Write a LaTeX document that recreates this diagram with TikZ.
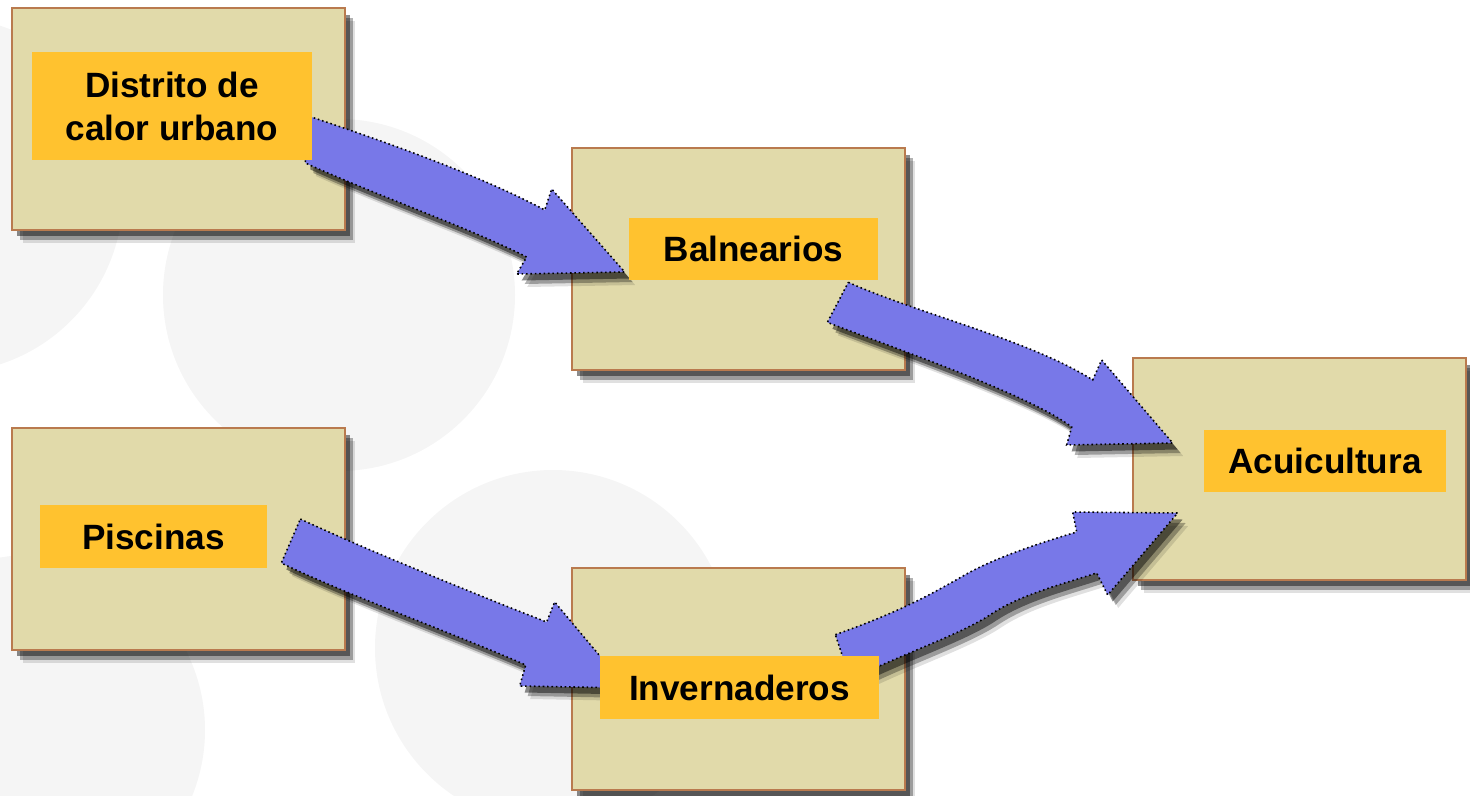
\documentclass[tikz,border=0pt]{standalone}
\usepackage{fontspec}
\setmainfont{Liberation Sans}
\usetikzlibrary{calc,shadows}
\definecolor{boxtan}{HTML}{E1DAAA}
\definecolor{boxbrown}{HTML}{B97A4E}
\definecolor{lblorange}{HTML}{FFC22F}
\definecolor{arrowblue}{HTML}{7878E8}
\definecolor{bgcirc}{HTML}{F5F5F5}
\pgfdeclarelayer{bg}
\pgfdeclarelayer{boxes}
\pgfdeclarelayer{arrows}
\pgfsetlayers{bg,boxes,arrows,main}
\begin{document}
\begin{tikzpicture}[x=0.02cm, y=-0.02cm,
    softshadow/.style = {drop shadow={shadow xshift=0.21cm, shadow yshift=-0.26cm, fill=black, opacity=0.12},
      drop shadow={shadow xshift=0.16cm, shadow yshift=-0.2cm, fill=black, opacity=0.3},
      drop shadow={shadow xshift=0.1cm, shadow yshift=-0.13cm, fill=black, opacity=0.45}},
    usebox/.style = {draw=boxbrown, fill=boxtan, line width=1.6pt, inner sep=0,
      minimum width=6.66cm, minimum height=4.44cm, softshadow},
    uselabel/.style = {fill=lblorange, inner sep=0, align=center,
      font=\bfseries\fontsize{20}{24.4}\selectfont},
    fatarrow/.style = {fill=arrowblue, draw=black, line width=0.9pt, dash pattern=on 0.9pt off 1.6pt, softshadow}]
\useasboundingbox (0,0) rectangle (1470,795);
\begin{pgfonlayer}{bg}
\fill[bgcirc] (-55,195) circle[radius=178];
\fill[bgcirc] (339,295) circle[radius=176];
\fill[bgcirc] (553,648) circle[radius=178];
\fill[bgcirc] (30,730) circle[radius=175];
\end{pgfonlayer}

\begin{pgfonlayer}{boxes}
\node[usebox] (b1) at (178.5,119) {};
\node[usebox] (b2) at (738.5,259) {};
\node[usebox] (b3) at (178.5,539) {};
\node[usebox] (b4) at (738.5,679) {};
\node[usebox] (b5) at (1299.5,469) {};
\end{pgfonlayer}

\node[uselabel, minimum width=5.6cm, minimum height=2.16cm] (l1) at ([shift={(-6.5,-13)}]b1.center) {Distrito de\\calor urbano};
\node[uselabel, minimum width=4.98cm, minimum height=1.24cm] (l2) at ([shift={(15,-10)}]b2.center) {Balnearios};
\node[uselabel, minimum width=4.54cm, minimum height=1.26cm] (l3) at ([shift={(-25,-2.5)}]b3.center) {Piscinas};
\node[uselabel, minimum width=5.58cm, minimum height=1.26cm] (l4) at ([shift={(1,8.5)}]b4.center) {Invernaderos};
\node[uselabel, minimum width=4.84cm, minimum height=1.24cm] (l5) at ([shift={(25.5,-8)}]b5.center) {Acuicultura};

\coordinate (sA) at (l1.east);
\coordinate (eA) at ([shift={(-4,23)}]l2.west);
\coordinate (sB) at (l2.south east);
\coordinate (eB) at ([shift={(-31,-18)}]l5.west);
\coordinate (sC) at (l3.east);
\coordinate (eC) at ([shift={(27,0.5)}]l4.west);
\coordinate (sD) at (l4.north east);
\coordinate (eD) at ([shift={(-26,52)}]l5.west);

\begin{pgfonlayer}{arrows}
\draw[fatarrow] ($(sA)+(-7,9)$) .. controls +(75,25) and +(-65,-35) .. ($(eA)+(-80,-62)$)
  -- ($(eA)+(-73,-83)$) -- (eA) -- ($(eA)+(-108,2)$) -- ($(eA)+(-98,-15)$)
  .. controls +(-57,-29) and +(75,34) .. ($(sA)+(-7,57)$) -- cycle;
\draw[fatarrow] ($(sB)+(-30,2)$) .. controls +(72,32) and +(-63,-40) .. ($(eB)+(-80,-63)$)
  -- ($(eB)+(-71,-83)$) -- (eB) -- ($(eB)+(-106,2)$) -- ($(eB)+(-101,-16)$)
  .. controls +(-42,-32) and +(73,28) .. ($(sB)+(-51,42)$) -- cycle;
\draw[fatarrow] ($(sC)+(33,-17.5)$) .. controls +(60,28) and +(-67,-26) .. ($(eC)+(-80,-66)$)
  -- ($(eC)+(-72,-86)$) -- (eC) -- ($(eC)+(-107,-2)$) -- ($(eC)+(-101,-23)$)
  .. controls +(-56,-25) and +(59,29) .. ($(sC)+(14,26.5)$) -- cycle;
\draw[fatarrow] ($(sD)+(-44,-21)$) .. controls +(65,-23) and +(-35,20) .. ($(sD)+(86,-81)$)
  .. controls +(30,-17) and +(-37,11) .. ($(eD)+(-101,19)$)
  -- ($(eD)+(-105,-1)$) -- (eD) -- ($(eD)+(-70,82)$) -- ($(eD)+(-81,60)$)
  .. controls +(-37,12) and +(30,-20) .. ($(sD)+(111,-41)$)
  .. controls +(-30,20) and +(50,-25) .. ($(sD)+(-29,24)$) -- cycle;
\end{pgfonlayer}
\end{tikzpicture}
\end{document}
